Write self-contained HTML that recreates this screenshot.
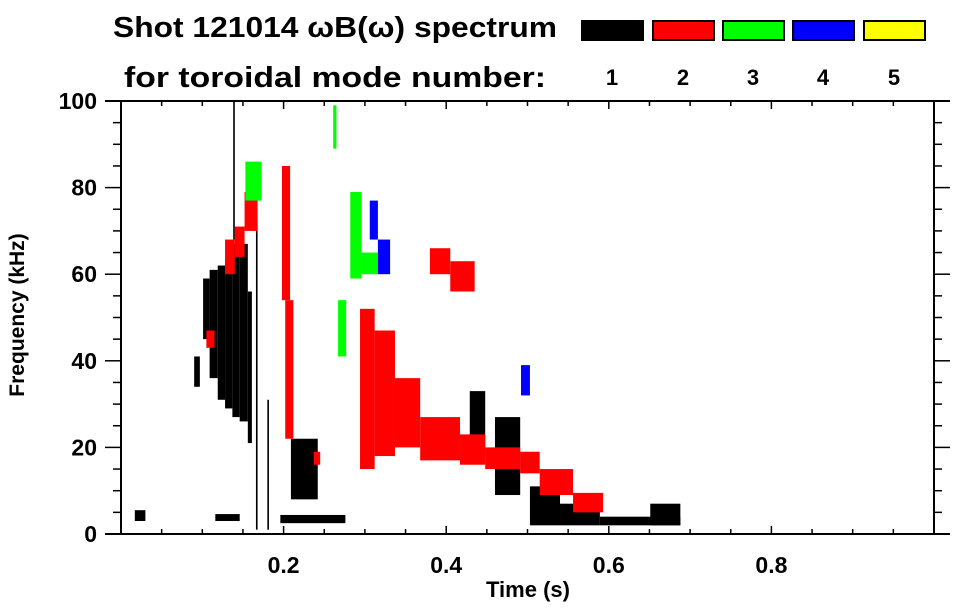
<!DOCTYPE html>
<html><head><meta charset="utf-8"><style>
html,body{margin:0;padding:0;background:#fff;}
svg{display:block;font-family:"Liberation Sans",sans-serif;font-weight:bold;}
</style></head><body>
<svg id="chart" width="963" height="615" viewBox="0 0 963 615">
<g>
<text x="113" y="37" font-size="29" textLength="444" lengthAdjust="spacingAndGlyphs">Shot 121014 ωB(ω) spectrum</text>
<text x="124" y="87" font-size="29" textLength="422" lengthAdjust="spacingAndGlyphs">for toroidal mode number:</text>
</g>
<g id="legend"></g>
<g id="marks"></g>
<g id="axes"></g>
<text x="24" y="315" font-size="21" text-anchor="middle" transform="rotate(-90 24 315)">Frequency (kHz)</text>
<text x="528" y="597" font-size="22" text-anchor="middle">Time (s)</text>
</svg>
<script>
const modeLabels = ["1","2","3","4","5"];
const modeColors = ["#000000","#ff0000","#00ff00","#0000ff","#ffff00"];
const xTicks = [0.2,0.4,0.6,0.8];
const xTickLabels = ["0.2","0.4","0.6","0.8"];
const yTicks = [0,20,40,60,80,100];
const yTickLabels = ["0","20","40","60","80","100"];
// spectral features: time range (s), frequency range (kHz), mode index
const blobT0 = [0.090,0.101,0.109,0.119,0.128,0.137,0.146,0.156,0.166,0.209,0.429,0.460,0.503,0.540,0.589,0.651,0.196,0.116,0.017,0.138,0.180,0.470,
 0.128,0.140,0.152,0.105, 0.198,0.202,0.237, 0.294,0.312,0.337,0.368,0.417,0.448,0.491,0.515,0.556, 0.380,0.405,
 0.153,0.282,0.296,0.267,0.261, 0.306,0.316,0.492];
const blobT1 = [0.097,0.109,0.119,0.128,0.137,0.146,0.156,0.161,0.168,0.242,0.448,0.491,0.540,0.589,0.688,0.688,0.276,0.146,0.030,0.140,0.182,0.476,
 0.140,0.152,0.168,0.115, 0.208,0.212,0.245, 0.312,0.337,0.368,0.417,0.448,0.491,0.515,0.556,0.593, 0.405,0.435,
 0.173,0.296,0.316,0.277,0.265, 0.316,0.331,0.503];
const blobF0 = [34,45,36,31,29,27,26,21,1,8,18,9,2,2,2,2,2.5,3,3,68,1,10,
 60,64,70,43, 54,22,16, 15,18,20,17,16,15,14,9,5, 60,56,
 77,59,60,41,89, 68,60,32];
const blobF1 = [41,59,61,62,63,67,67,56,72,22,33,27,11,7,4,7,4.4,4.6,5.5,100,31,20,
 68,71,79,47, 85,54,19, 52,47,36,27,23,20,19,15,9.5, 66,63,
 86,79,65,54,99, 77,68,39];
const blobMode = [0,0,0,0,0,0,0,0,0,0,0,0,0,0,0,0,0,0,0,0,0,0,
 1,1,1,1, 1,1,1, 1,1,1,1,1,1,1,1,1, 1,1,
 2,2,2,2,2, 3,3,3];

const L=121,R=934,T=101,B=534;
const xs = t => L + t*(R-L);
const ys = f => B - f*(B-T)/100;
const NS="http://www.w3.org/2000/svg";
function mk(tag,attrs,parent){const e=document.createElementNS(NS,tag);for(const k in attrs)e.setAttribute(k,attrs[k]);parent.appendChild(e);return e;}

// legend
const lg=document.getElementById('legend');
const boxX=[582,653,723,793,864];
modeLabels.forEach((m,i)=>{
  const r=mk('rect',{x:boxX[i],y:21,width:61,height:19,fill:modeColors[i],stroke:'#000','stroke-width':2},lg);
  
  
  const t=mk('text',{x:boxX[i]+30,y:85,'font-size':22,'text-anchor':'middle'},lg);
  t.textContent=m;
  
  
});

// marks
const mg=document.getElementById('marks');
for(let i=0;i<blobT0.length;i++){
  const x0=xs(blobT0[i]),x1=xs(blobT1[i]),y0=ys(blobF1[i]),y1=ys(blobF0[i]);
  const r=mk('rect',{x:x0,y:y0,width:Math.max(1.5,x1-x0),height:Math.max(1.5,y1-y0),fill:modeColors[blobMode[i]]},mg);
  
  
}

// axes
const ax=document.getElementById('axes');
const st={stroke:'#000','stroke-width':2};
let a;
a=mk('line',Object.assign({x1:105,y1:T,x2:950,y2:T},st),ax);
a=mk('line',Object.assign({x1:105,y1:B,x2:950,y2:B},st),ax);
a=mk('line',Object.assign({x1:L,y1:T,x2:L,y2:B},st),ax);
a=mk('line',Object.assign({x1:R,y1:T,x2:R,y2:B},st),ax);
for(let k=1;k<20;k++){
  const t=k*0.05, x=xs(t), major=(k%4===0);
  const len=major?8:5;
  mk('line',{x1:x,y1:B,x2:x,y2:B-len,stroke:'#000','stroke-width':1.5},ax);
  mk('line',{x1:x,y1:T,x2:x,y2:T+len,stroke:'#000','stroke-width':1.5},ax);
}
for(let k=1;k<20;k++){
  const y=ys(k*5), major=(k%4===0);
  mk('line',{x1:L,y1:y,x2:L-(major?16:8),y2:y,stroke:'#000','stroke-width':1.5},ax);
  mk('line',{x1:R,y1:y,x2:R+(major?16:8),y2:y,stroke:'#000','stroke-width':1.5},ax);
}
xTicks.forEach((t,i)=>{
  const e=mk('text',{x:xs(t),y:573,'font-size':23,'text-anchor':'middle'},ax);
  e.textContent=xTickLabels[i];
  
  
});
yTicks.forEach((f,i)=>{
  const e=mk('text',{x:97,y:ys(f)+8,'font-size':23,'text-anchor':'end'},ax);
  e.textContent=yTickLabels[i];
  
  
});
</script>
</body></html>
